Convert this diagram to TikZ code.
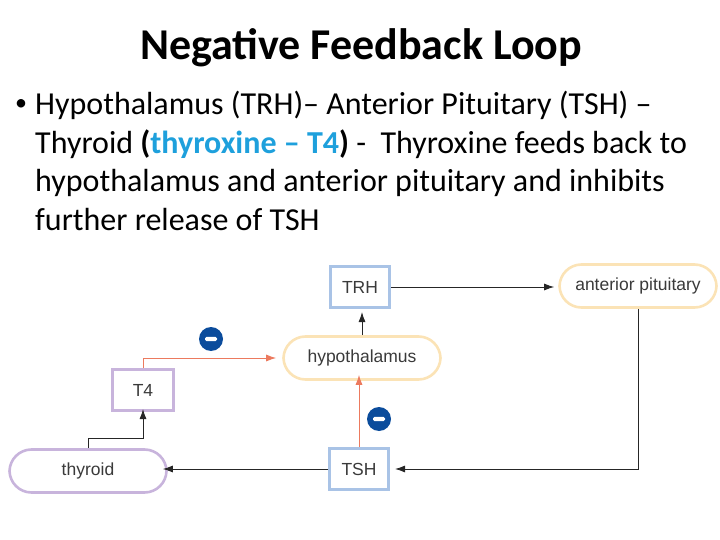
\documentclass[tikz,border=0pt]{standalone}
\usepackage{fontspec}
\setmainfont{Carlito}
\newfontfamily\diag{Liberation Sans}
\usetikzlibrary{arrows.meta}
\definecolor{boxblue}{HTML}{A9C3E6}
\definecolor{ovalor}{HTML}{FBE3B6}
\definecolor{purp}{HTML}{C8B4DC}
\definecolor{redar}{HTML}{EC7A5E}
\definecolor{minusblue}{HTML}{0B4C9C}
\definecolor{txtblue}{HTML}{1EA0DC}
\definecolor{dtext}{HTML}{3A3A3A}
\tikzset{
  sq/.style={draw=#1, line width=3pt, minimum width=59pt, minimum height=41pt, inner sep=0pt, font=\diag\fontsize{17.5}{20}\selectfont, text=dtext},
  oval/.style={draw=#1, line width=2.6pt, rounded corners=22pt, minimum width=157pt, minimum height=43pt, inner sep=0pt, font=\diag\fontsize{17.5}{20}\selectfont, text=dtext, fill=white},
  blk/.style={draw=black!85, line width=0.9pt, -{Latex[length=10pt,width=7pt]}},
  red/.style={draw=redar, line width=1pt, -{Latex[length=10pt,width=7pt]}},
  minus/.style={circle, fill=minusblue, minimum size=24pt, inner sep=0pt, path picture={\fill[white, rounded corners=1.5pt] ([xshift=-6pt,yshift=-2.2pt]path picture bounding box.center) rectangle ([xshift=6pt,yshift=2.2pt]path picture bounding box.center);}},
  bodytxt/.style={anchor=base west, inner sep=0pt, font=\fontsize{32}{38}\selectfont}
}
\begin{document}
\begin{tikzpicture}[x=1pt,y=-1pt]
\useasboundingbox (0,0) rectangle (720,540);
\node[font=\bfseries\fontsize{44}{50}\selectfont, anchor=base, inner sep=0pt] (title) at (361,60) {Negative Feedback Loop};
\node[anchor=center, inner sep=0pt, font=\fontsize{24}{28}\selectfont] (bul) at (21,105) {\textbullet};
\node[bodytxt] (l1) at (35,115) {Hypothalamus (TRH)– Anterior Pituitary (TSH) –};
\node[bodytxt] (l2) at (35,154) {Thyroid \textbf{(}\textcolor{txtblue}{\textbf{thyroxine – T4}}\textbf{)} -\ \ Thyroxine feeds back to};
\node[bodytxt] (l3) at (35,192) {hypothalamus and anterior pituitary and inhibits};
\node[bodytxt] (l4) at (35,230) {further release of TSH};

\node[sq=boxblue] (trh) at (360,287) {TRH};
\node[oval=ovalor] (ap) at (638,286) {anterior pituitary};
\node[oval=ovalor] (hyp) at (362,358) {hypothalamus};
\node[sq=purp, minimum width=61pt] (t4) at (143,390) {T4};
\node[oval=purp] (thy) at (88,471) {thyroid};
\node[sq=boxblue] (tsh) at (359,469) {TSH};
\node[minus] (m1) at (211,339) {};
\node[minus] (m2) at (379,419) {};

\draw[blk] (trh.east) -- ([xshift=-4pt]ap.west |- trh.east);
\draw[blk] (hyp.north) -- ([yshift=-3pt]trh.south -| hyp.north);
\draw[blk] (ap.south) |- ([xshift=5pt]tsh.east);
\draw[blk] (tsh.west) -- ([xshift=-5pt]thy.east |- tsh.west);
\coordinate (tk) at (thy.north |- 0,438);
\draw[blk] (thy.north) -- (tk) -| ([yshift=3pt]t4.south);
\draw[red] (t4.north) |- ([xshift=-6pt]hyp.west);
\draw[red] (tsh.north) -- ([yshift=6pt]hyp.south -| tsh.north);
\end{tikzpicture}
\end{document}
